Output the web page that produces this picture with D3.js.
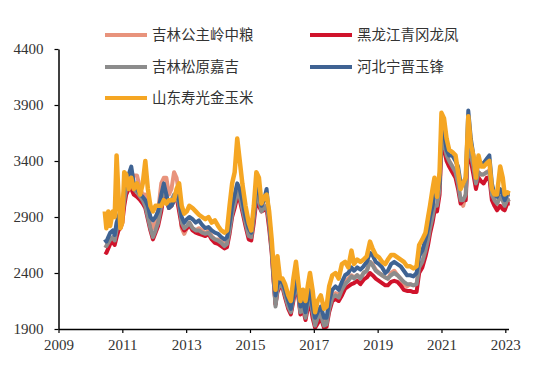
<!DOCTYPE html>
<html>
<head>
<meta charset="utf-8">
<script src="https://cdn.jsdelivr.net/npm/d3@7"></script>
<style>
  body { margin: 0; background: #fff; }
</style>
</head>
<body>
<div id="chart"></div>
<script>
// Dates as decimal years
const dates = [
  2010.45, 2010.50, 2010.56, 2010.62, 2010.70, 2010.76, 2010.82, 2010.88, 2010.94, 2011.00,
  2011.06, 2011.12, 2011.20, 2011.28, 2011.36, 2011.46, 2011.56, 2011.64, 2011.72, 2011.80,
  2011.88, 2011.96, 2012.04, 2012.12, 2012.22, 2012.30, 2012.38, 2012.46, 2012.54, 2012.62,
  2012.70, 2012.78, 2012.86, 2012.94, 2013.02, 2013.10, 2013.20, 2013.30, 2013.40, 2013.50,
  2013.60, 2013.70, 2013.80, 2013.90, 2014.00, 2014.10, 2014.20, 2014.28, 2014.36, 2014.44,
  2014.52, 2014.60, 2014.68, 2014.76, 2014.86, 2014.96, 2015.04, 2015.12, 2015.20, 2015.28,
  2015.36, 2015.44, 2015.52, 2015.60, 2015.68, 2015.74, 2015.80, 2015.86, 2015.94, 2016.02,
  2016.10, 2016.20, 2016.28, 2016.36, 2016.44, 2016.52, 2016.58, 2016.66, 2016.74, 2016.82,
  2016.88, 2016.96, 2017.04, 2017.12, 2017.22, 2017.32, 2017.40, 2017.48, 2017.58, 2017.68,
  2017.78, 2017.88, 2017.98, 2018.08, 2018.18, 2018.26, 2018.36, 2018.46, 2018.56, 2018.66,
  2018.76, 2018.84, 2018.94, 2019.04, 2019.14, 2019.24, 2019.32, 2019.42, 2019.52, 2019.62,
  2019.72, 2019.82, 2019.92, 2020.02, 2020.12, 2020.22, 2020.30, 2020.40, 2020.50, 2020.58,
  2020.64, 2020.72, 2020.78, 2020.86, 2020.94, 2021.00, 2021.08, 2021.16, 2021.24, 2021.34,
  2021.44, 2021.52, 2021.60, 2021.68, 2021.76, 2021.84, 2021.92, 2022.00, 2022.08, 2022.16,
  2022.24, 2022.32, 2022.42, 2022.50, 2022.58, 2022.66, 2022.74, 2022.84, 2022.92, 2022.98,
  2023.06, 2023.14
];

// 吉林公主岭中粮
const jlGongzhuling = [
  2650, 2640, 2680, 2700, 2720, 2700, 2800, 2850, 2900, 2950,
  3100, 3180, 3200, 3250, 3270, 3270, 3150, 3100, 3100, 3000,
  2850, 2800, 2850, 2950, 3200, 3250, 3250, 3100, 3150, 3300,
  3250, 3100, 2800, 2750, 2800, 2850, 2800, 2780, 2800, 2780,
  2750, 2780, 2730, 2700, 2700, 2680, 2660, 2670, 2800, 2950,
  3050, 3150, 3100, 3000, 2870, 2750, 2730, 2900, 3100, 3050,
  2980, 3000, 3000, 2850, 2620, 2350, 2120, 2250, 2300, 2300,
  2200, 2100, 2050, 2180, 2300, 2200, 2050, 2100, 2000, 2150,
  2200, 2050, 1950, 2000, 2050, 1950, 1950, 2100, 2200, 2220,
  2200, 2270, 2330, 2350, 2380, 2360, 2380, 2350, 2400, 2420,
  2500, 2480, 2430, 2400, 2380, 2360, 2350, 2400, 2420, 2380,
  2350, 2300, 2280, 2300, 2290, 2300, 2450, 2500, 2600, 2700,
  2800, 2900, 3000, 3000, 3150, 3600, 3550, 3450, 3400, 3350,
  3300, 3200, 3050, 3000, 3100, 3650, 3450, 3350, 3200, 3300,
  3280, 3280, 3300, 3320, 3100, 3050, 3020, 3080, 3050, 3000,
  3050, 3060
];

// 黑龙江青冈龙凤
const hljQinggang = [
  2590, 2580, 2620, 2660, 2680, 2650, 2720, 2780, 2800, 2850,
  3000, 3100, 3150, 3150, 3100, 3080, 3050, 3020, 2980, 2880,
  2780, 2700, 2760, 2820, 2950, 3100, 3050, 2980, 3000, 3050,
  3080, 2950, 2820, 2780, 2800, 2830, 2780, 2760, 2750, 2740,
  2730, 2750, 2700, 2670, 2660, 2640, 2620, 2630, 2750, 2900,
  2980, 3080, 3050, 2950, 2820, 2700, 2690, 2850, 3050, 3000,
  2950, 2960, 2980, 2800, 2580, 2330, 2120, 2230, 2280, 2270,
  2180, 2080, 2030, 2150, 2280, 2180, 2030, 2080, 1980, 2100,
  2150, 2000, 1910, 1950, 2000, 1910, 1920, 2050, 2150, 2170,
  2150, 2200, 2260, 2280, 2300, 2310, 2330, 2300, 2340, 2360,
  2400, 2380, 2350, 2330, 2310, 2290, 2290, 2320, 2330, 2320,
  2290, 2250, 2240, 2240, 2230, 2230, 2400, 2450, 2550, 2650,
  2750, 2850, 2950, 2950, 3100, 3550, 3500, 3400, 3350, 3300,
  3250, 3150, 3020, 3050, 3050, 3600, 3400, 3280, 3150, 3250,
  3220, 3200, 3250, 3250, 3050, 3000, 2960, 3000, 2970, 2960,
  3020, 3020
];

// 吉林松原嘉吉
const jlSongyuan = [
  2650, 2640, 2670, 2700, 2720, 2690, 2780, 2830, 2870, 2920,
  3050, 3150, 3180, 3200, 3150, 3120, 3080, 3050, 3000, 2900,
  2800, 2720, 2780, 2850, 3000, 3150, 3100, 3000, 3050, 3100,
  3100, 3000, 2850, 2800, 2820, 2850, 2800, 2780, 2780, 2760,
  2750, 2760, 2720, 2700, 2690, 2670, 2640, 2660, 2780, 2930,
  3020, 3120, 3080, 2980, 2850, 2730, 2720, 2900, 3100, 3050,
  2950, 2980, 3000, 2850, 2600, 2350, 2100, 2250, 2300, 2280,
  2200, 2100, 2050, 2180, 2300, 2200, 2050, 2100, 2000, 2150,
  2200, 2050, 1930, 2000, 2030, 1930, 1940, 2080, 2180, 2200,
  2180, 2250, 2300, 2330, 2370, 2350, 2380, 2350, 2400, 2420,
  2500, 2470, 2420, 2400, 2380, 2360, 2350, 2380, 2400, 2380,
  2350, 2320, 2300, 2300, 2290, 2300, 2450, 2500, 2600, 2700,
  2800, 2900, 3000, 3000, 3150, 3600, 3550, 3450, 3400, 3350,
  3300, 3200, 3050, 3050, 3100, 3650, 3450, 3350, 3200, 3300,
  3280, 3280, 3300, 3300, 3100, 3050, 3020, 3080, 3050, 3000,
  3050, 3060
];

// 河北宁晋玉锋
const hbNingjin = [
  2700, 2680, 2720, 2760, 2780, 2740, 2850, 2900, 2950, 3000,
  3150, 3250, 3280, 3350, 3200, 3150, 3100, 3080, 3050, 3000,
  2900, 2870, 2900, 2950, 3100, 3200, 3100, 2980, 3000, 3050,
  3100, 3050, 2900, 2850, 2880, 2900, 2880, 2850, 2870, 2830,
  2800, 2810, 2780, 2760, 2750, 2720, 2700, 2720, 2850, 3000,
  3100, 3200, 3150, 3050, 2900, 2800, 2760, 2950, 3150, 3150,
  3000, 3050, 3150, 2900, 2650, 2400, 2200, 2300, 2330, 2320,
  2250, 2150, 2080, 2200, 2350, 2250, 2100, 2150, 2050, 2200,
  2250, 2100, 2000, 2050, 2100, 2000, 2000, 2150, 2250, 2280,
  2250, 2320, 2380, 2400, 2450, 2420, 2450, 2430, 2460, 2500,
  2580, 2560, 2500, 2480, 2450, 2400, 2420, 2480, 2500, 2480,
  2460, 2420, 2380, 2380, 2370, 2400, 2550, 2600, 2700, 2800,
  2900, 3000, 3100, 3100, 3200, 3700, 3650, 3500, 3450, 3450,
  3400, 3350, 3200, 3200, 3250, 3850, 3600, 3450, 3250, 3400,
  3380, 3380, 3420, 3450, 3200, 3100, 3080, 3150, 3100, 3050,
  3100, 3100
];

// 山东寿光金玉米
const sdShouguang = [
  2950, 2800, 2950, 2820, 2950, 2900, 3450, 3100, 2800, 2850,
  3300, 3280, 3150, 3250, 3150, 3200, 3100, 3200, 3400, 3150,
  3000, 2950, 3000, 3000, 3000, 3050, 3020, 3050, 3050, 3050,
  3150, 3200, 3000, 2930, 2950, 3000, 2980, 2950, 2920, 2900,
  2880, 2900, 2850, 2870, 2820, 2780, 2760, 2780, 3000, 3200,
  3300, 3600, 3400, 3200, 3000, 2850, 2780, 3000, 3300, 3250,
  3020, 3080, 3100, 2950, 2700, 2450, 2250, 2550, 2350, 2350,
  2300, 2200, 2150, 2350, 2500, 2300, 2150, 2250, 2150, 2300,
  2400, 2250, 2050, 2150, 2200, 2080, 2100, 2280, 2380, 2400,
  2350, 2480, 2500, 2450, 2600, 2480, 2520, 2500, 2520, 2550,
  2680, 2620, 2560, 2540, 2500, 2480, 2520, 2560, 2560, 2540,
  2520, 2500, 2460, 2460, 2440, 2460, 2650, 2700, 2760, 2900,
  3000, 3150, 3250, 3080, 3300, 3830, 3780, 3600, 3500, 3480,
  3450, 3300, 3150, 3200, 3250, 3800, 3550, 3450, 3250, 3450,
  3350, 3350, 3380, 3400, 3150, 3100, 3100, 3350, 3250, 3100,
  3120, 3110
];

const seriesNames = ["吉林公主岭中粮", "黑龙江青冈龙凤", "吉林松原嘉吉", "河北宁晋玉锋", "山东寿光金玉米"];
const seriesValues = [jlGongzhuling, hljQinggang, jlSongyuan, hbNingjin, sdShouguang];
const colors = ["#E8937C", "#D0132B", "#8C8C8C", "#3F6393", "#F5A623"];
const yTicks = [1900, 2400, 2900, 3400, 3900, 4400];
const xTicks = [2009, 2011, 2013, 2015, 2017, 2019, 2021, 2023];

const width = 550, height = 379;

const svg = d3.select("#chart")
  .append("svg")
  .attr("width", width)
  .attr("height", height);

const x = d3.scaleLinear().domain([2009, 2023.1]).range([58.5, 508.5]);
const y = d3.scaleLinear().domain([1900, 4400]).range([329, 49]);

// Lines
const line = d3.line()
  .x((d) => x(d.date))
  .y((d) => y(d.value));

seriesValues.forEach((vals, i) => {
  const pts = dates.map((dt, j) => ({ date: dt, value: vals[j] }));
  svg.append("path")
    .datum(pts)
    .attr("d", line)
    .attr("fill", "none")
    .attr("stroke", colors[i])
    .attr("stroke-width", i == 4 ? 4.5 : 4)
    .attr("stroke-linejoin", "round");
});

// Axes
svg.append("g")
  .attr("transform", "translate(58.5,0)")
  .call(d3.axisLeft(y).tickValues(yTicks).tickFormat(d3.format("d")).tickSize(4).tickSizeOuter(0).tickPadding(11));

svg.append("g")
  .attr("transform", "translate(0,329)")
  .call(d3.axisBottom(x).tickValues(xTicks).tickFormat(d3.format("d")).tickSize(4).tickSizeOuter(0).tickPadding(6));

svg.selectAll(".domain").attr("stroke", "#000").attr("stroke-width", 1.5);
svg.selectAll(".tick line").attr("stroke", "#000").attr("stroke-width", 1.2);
svg.selectAll(".tick text")
  .attr("font-family", "'Liberation Serif', 'Times New Roman', serif")
  .attr("font-size", 15)
  .attr("fill", "#333");

// Legend
const legendPos = [
  { x: 105, y: 35 }, { x: 310, y: 35 },
  { x: 105, y: 67 }, { x: 310, y: 67 },
  { x: 105, y: 98 }
];

const legend = svg.append("g");
seriesNames.forEach((name, i) => {
  const g = legend.append("g").attr("transform", `translate(${legendPos[i].x},${legendPos[i].y})`);
  g.append("line")
    .attr("x1", 0).attr("x2", 42)
    .attr("stroke", colors[i])
    .attr("stroke-width", 4);
  g.append("text")
    .attr("x", 47)
    .attr("dy", "0.35em")
    .attr("font-family", "'Noto Sans CJK SC', sans-serif")
    .attr("font-size", 14.5)
    .attr("fill", "#333")
    .text(name);
});
</script>
</body>
</html>
